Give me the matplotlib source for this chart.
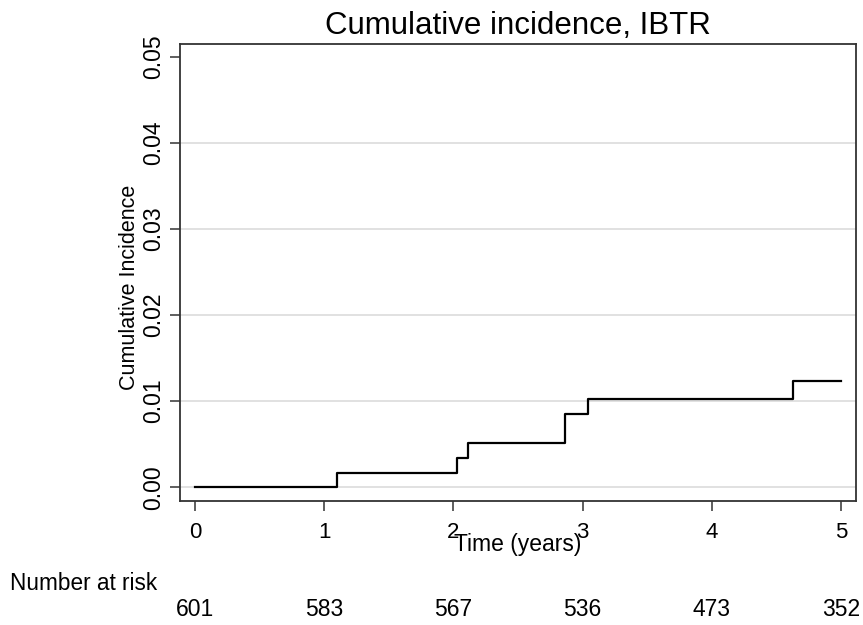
import matplotlib
matplotlib.use("Agg")
import matplotlib.pyplot as plt
import matplotlib.transforms as mtransforms

plt.rcParams['font.family'] = ['Liberation Sans', 'DejaVu Sans']

# Step function data (event times in years and cumulative incidence after each step)
times = [0.0, 1.10, 2.03, 2.11, 2.86, 3.04, 4.63, 5.0]
incidence = [0.0, 0.0017, 0.0034, 0.0051, 0.0085, 0.0102, 0.0124, 0.0124]

risk_times = [0, 1, 2, 3, 4, 5]
number_at_risk = [601, 583, 567, 536, 473, 352]

yticks = [0.00, 0.01, 0.02, 0.03, 0.04, 0.05]
ytick_labels = ["0.00", "0.01", "0.02", "0.03", "0.04", "0.05"]

W, H = 863, 625
fig = plt.figure(figsize=(W / 100, H / 100), dpi=100)
L, R, T, B = 180, 856, 44, 501
ax = fig.add_axes([L / W, 1 - B / H, (R - L) / W, (B - T) / H])

for g in yticks[:-1]:
    ax.axhline(g, color='#dcdcdc', lw=1.2, zorder=0)

ax.step(times, incidence, where='post', color='black', lw=1.6, zorder=3)

ax.set_xlim(-0.116, 5.116)
ax.set_ylim(-0.0016, 0.0515)
ax.set_xticks(risk_times)
ax.set_xticklabels([str(t) for t in risk_times], fontsize=16)
ax.set_yticks(yticks)
ax.set_yticklabels(ytick_labels, fontsize=16.5, rotation=90, va='center')
ax.tick_params(axis='both', direction='out', length=7, width=1.1, color='#333333')
ax.tick_params(axis='x', pad=8)
ax.tick_params(axis='y', pad=4)
for s in ax.spines.values():
    s.set_color('#333333')
    s.set_linewidth(1.3)

ax.set_xlabel("Time (years)", fontsize=16.5)
ax.xaxis.set_label_coords(0.5, -(551 - B) / (B - T))
ax.xaxis.label.set_va('baseline')
ax.set_ylabel("Cumulative Incidence", fontsize=15.5)
ax.yaxis.set_label_coords((129 - L) / (R - L), (B - 287) / (B - T))
ax.yaxis.label.set_va('center')

fig.text(0.5 * (L + R) / W, 1 - 34 / H, "Cumulative incidence, IBTR", fontsize=22.5,
         ha='center', va='baseline')

fig.text(10 / W, 1 - 590 / H, "Number at risk", fontsize=16.3, ha='left', va='baseline')
trans = mtransforms.blended_transform_factory(ax.transData, fig.transFigure)
for t, n in zip(risk_times, number_at_risk):
    ax.text(t, 1 - 616 / H, str(n), transform=trans, fontsize=16.5, ha='center', va='baseline')

fig.savefig("out.png", dpi=100)
